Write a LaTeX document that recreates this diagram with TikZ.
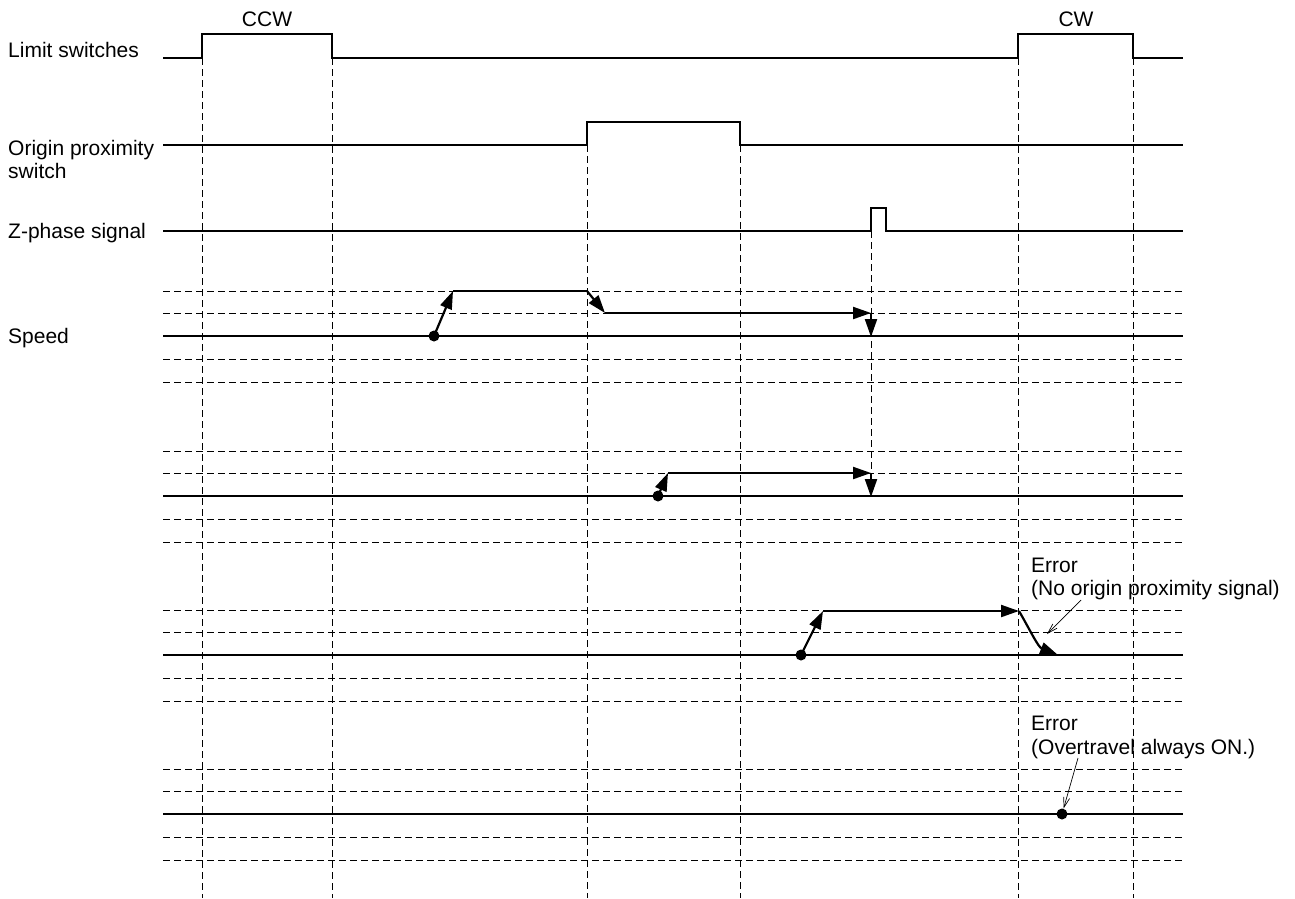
\documentclass[tikz,border=0pt]{standalone}
\usepackage{fontspec}
\setmainfont{Liberation Sans}
\usetikzlibrary{arrows.meta}
\begin{document}
\begin{tikzpicture}[x=1pt,y=-1pt,
  sig/.style={line width=2.2pt, line join=miter},
  vgrid/.style={line width=1pt, dash pattern=on 7pt off 4pt},
  hgrid/.style={line width=1pt, dash pattern=on 7pt off 4pt},
  flow/.style={line width=2.2pt, -{Triangle[length=18pt,width=12pt]}},
  flowline/.style={line width=2.2pt},
  note/.style={line width=0.7pt, -{Straight Barb[length=10pt,width=6pt]}},
  lbl/.style={font=\fontsize{21}{23}\selectfont, inner sep=0pt, anchor=base west},
  top/.style={font=\fontsize{21}{23}\selectfont, inner sep=0pt, anchor=base},
  dot/.style={circle, fill, inner sep=0pt, minimum size=11pt}]
\useasboundingbox (0,0) rectangle (1295,898);

% labels
\node[lbl] (lsw) at (8,57.5) {Limit switches};
\node[lbl] (opx1) at (8,155.5) {Origin proximity};
\node[lbl] (opx2) at (8,178.5) {switch};
\node[lbl] (zph) at (8,238.5) {Z-phase signal};
\node[lbl] (spd) at (8,343.5) {Speed};
\node[top] (ccw) at (267,26.5) {CCW};
\node[top] (cw) at (1076,26.5) {CW};
\node[lbl] (e1a) at (1031,572.5) {Error};
\node[lbl] (e1b) at (1031,595.5) {(No origin proximity signal)};
\node[lbl] (e2a) at (1031,730.5) {Error};
\node[lbl] (e2b) at (1031,754.5) {(Overtravel always ON.)};

% vertical dashed guides
\foreach \x in {202,332,1018,1133} \draw[vgrid] (\x,58) -- (\x,898);
\foreach \x in {587,740} \draw[vgrid] (\x,145) -- (\x,898);
\draw[vgrid] (871,231) -- (871,496);

% speed grids
\foreach \yb in {336,496,655,814} {
  \foreach \d in {-45,-23,23,46} \draw[hgrid] (163,\yb+\d) -- (1183,\yb+\d);
  \draw[sig] (163,\yb) -- (1183,\yb);
}

% signals
\draw[sig] (163,58) -- (202,58) -- (202,34) -- (332,34) -- (332,58) -- (1018,58)
  -- (1018,34) -- (1133,34) -- (1133,58) -- (1183,58);
\draw[sig] (163,145) -- (587,145) -- (587,122) -- (740,122) -- (740,145) -- (1183,145);
\draw[sig] (163,231) -- (871,231) -- (871,208) -- (886,208) -- (886,231) -- (1183,231);

% speed profile 1
\node[dot] (d1) at (434,336) {};
\coordinate (a1) at (453,291);
\coordinate (b1) at (587,291);
\coordinate (c1) at (605,313);
\coordinate (f1) at (871,313);
\coordinate (g1) at (871,337);
\draw[flow] (d1.center) -- (a1);
\draw[flowline] (a1) -- (b1);
\draw[flow] (b1) -- (c1);
\draw[flow] (c1) -- (f1);
\draw[flow] (f1) -- (g1);

% speed profile 2
\node[dot] (d2) at (658,496) {};
\coordinate (a2) at (668,473);
\coordinate (f2) at (871,473);
\coordinate (g2) at (871,497);
\draw[flow] (d2.center) -- (a2);
\draw[flow] (a2) -- (f2);
\draw[flow] (f2) -- (g2);

% speed profile 3
\node[dot] (d3) at (801,655) {};
\coordinate (a3) at (823,611);
\coordinate (f3) at (1019,611);
\coordinate (g3) at (1058,655);
\draw[flow] (d3.center) -- (a3);
\draw[flow] (a3) -- (f3);
\draw[flow] (f3) .. controls (1030,630) and (1038,647) .. (g3);
\coordinate (n1s) at (1081,600);
\coordinate (n1e) at (1047,634);
\draw[note] (n1s) -- (n1e);

% speed profile 4
\node[dot] (d4) at (1062,814) {};
\coordinate (n2s) at (1078,758);
\draw[note] (n2s) -- (d4);
\end{tikzpicture}
\end{document}
